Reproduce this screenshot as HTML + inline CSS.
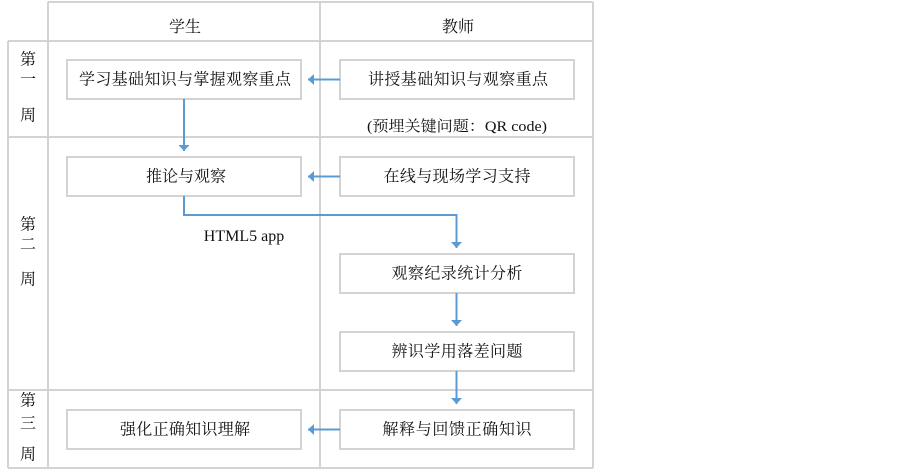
<!DOCTYPE html>
<html>
<head>
<meta charset="utf-8">
<style>
html,body{margin:0;padding:0;background:#fff;}
svg{display:block;}
.t{font-family:"Liberation Serif","Noto Serif CJK SC","Noto Sans CJK SC",serif;font-size:16px;fill:#111;}
.l{font-family:"Liberation Serif","Noto Serif CJK SC",serif;font-size:16px;fill:#111;}
</style>
</head>
<body>
<svg width="903" height="471" viewBox="0 0 903 471" xmlns="http://www.w3.org/2000/svg">
<defs>
<marker id="ah" markerWidth="12" markerHeight="12" refX="6" refY="6" orient="auto" markerUnits="userSpaceOnUse">
<path d="M0,0.5 L6,6 L0,11.5 Z" fill="#5b9bd5"/>
</marker>
</defs>
<rect x="0" y="0" width="903" height="471" fill="#fff"/>
<!-- grid -->
<g stroke="#d3d3d3" stroke-width="2" fill="none">
<line x1="48" y1="2" x2="593" y2="2"/>
<line x1="48" y1="2" x2="48" y2="468"/>
<line x1="320" y1="2" x2="320" y2="468"/>
<line x1="593" y1="2" x2="593" y2="468"/>
<line x1="8" y1="41" x2="593" y2="41"/>
<line x1="8" y1="137" x2="593" y2="137"/>
<line x1="8" y1="390" x2="593" y2="390"/>
<line x1="8" y1="468" x2="593" y2="468"/>
<line x1="8" y1="41" x2="8" y2="468"/>
</g>
<!-- boxes -->
<g stroke="#d3d3d3" stroke-width="2" fill="#fff">
<rect x="67" y="60" width="234" height="39"/>
<rect x="67" y="157" width="234" height="39"/>
<rect x="67" y="410" width="234" height="39"/>
<rect x="340" y="60" width="234" height="39"/>
<rect x="340" y="157" width="234" height="39"/>
<rect x="340" y="254" width="234" height="39"/>
<rect x="340" y="332" width="234" height="39"/>
<rect x="340" y="410" width="234" height="39"/>
</g>
<!-- arrows -->
<g stroke="#5b9bd5" stroke-width="2" fill="none">
<line x1="340" y1="79.5" x2="308" y2="79.5" marker-end="url(#ah)"/>
<line x1="340" y1="176.5" x2="308" y2="176.5" marker-end="url(#ah)"/>
<line x1="340" y1="429.5" x2="308" y2="429.5" marker-end="url(#ah)"/>
<line x1="184" y1="99" x2="184" y2="151" marker-end="url(#ah)"/>
<polyline points="184,196 184,215 456.5,215 456.5,248" marker-end="url(#ah)"/>
<line x1="456.5" y1="293" x2="456.5" y2="326" marker-end="url(#ah)"/>
<line x1="456.5" y1="371" x2="456.5" y2="404" marker-end="url(#ah)"/>
</g>
<!-- header text -->
<text class="t" x="185" y="27.5" text-anchor="middle" dominant-baseline="central">学生</text>
<text class="t" x="458" y="27.5" text-anchor="middle" dominant-baseline="central">教师</text>
<!-- week labels -->
<g class="t" text-anchor="middle" dominant-baseline="central">
<text class="t" x="28" y="60" text-anchor="middle" dominant-baseline="central">第</text>
<text class="t" x="28" y="80" text-anchor="middle" dominant-baseline="central">一</text>
<text class="t" x="28" y="116" text-anchor="middle" dominant-baseline="central">周</text>
<text class="t" x="28" y="225" text-anchor="middle" dominant-baseline="central">第</text>
<text class="t" x="28" y="245" text-anchor="middle" dominant-baseline="central">二</text>
<text class="t" x="28" y="280" text-anchor="middle" dominant-baseline="central">周</text>
<text class="t" x="28" y="401" text-anchor="middle" dominant-baseline="central">第</text>
<text class="t" x="28" y="424" text-anchor="middle" dominant-baseline="central">三</text>
<text class="t" x="28" y="455" text-anchor="middle" dominant-baseline="central">周</text>
</g>
<!-- box text -->
<text class="t" x="185" y="80" text-anchor="middle" dominant-baseline="central" textLength="212" lengthAdjust="spacing">学习基础知识与掌握观察重点</text>
<text class="t" x="186" y="177" text-anchor="middle" dominant-baseline="central" textLength="80" lengthAdjust="spacing">推论与观察</text>
<text class="t" x="185" y="430" text-anchor="middle" dominant-baseline="central" textLength="130" lengthAdjust="spacing">强化正确知识理解</text>
<text class="t" x="458" y="80" text-anchor="middle" dominant-baseline="central" textLength="180" lengthAdjust="spacing">讲授基础知识与观察重点</text>
<text class="t" x="457" y="127" text-anchor="middle" dominant-baseline="central" textLength="180" lengthAdjust="spacingAndGlyphs" style="font-size:15px">(预埋关键问题：QR code)</text>
<text class="t" x="457" y="177" text-anchor="middle" dominant-baseline="central" textLength="147" lengthAdjust="spacing">在线与现场学习支持</text>
<text class="t" x="457" y="274" text-anchor="middle" dominant-baseline="central" textLength="131" lengthAdjust="spacing">观察纪录统计分析</text>
<text class="t" x="457" y="352" text-anchor="middle" dominant-baseline="central" textLength="131" lengthAdjust="spacing">辨识学用落差问题</text>
<text class="t" x="457" y="430" text-anchor="middle" dominant-baseline="central" textLength="149" lengthAdjust="spacing">解释与回馈正确知识</text>
<!-- HTML5 app -->
<text class="l" x="244" y="241" text-anchor="middle">HTML5 app</text>
</svg>
</body>
</html>
